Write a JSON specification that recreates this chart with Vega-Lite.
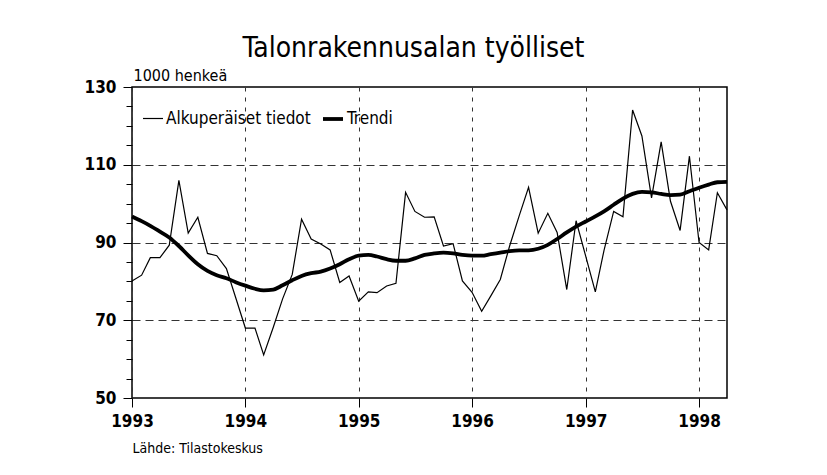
{
  "$schema": "https://vega.github.io/schema/vega-lite/v6.json",
  "width": 595,
  "height": 311,
  "autosize": {"type": "none"},
  "padding": {"left": 132, "top": 87, "right": 100, "bottom": 77},
  "background": "white",
  "config": {
    "font": "Liberation Sans Narrow, DejaVu Sans Condensed, sans-serif",
    "view": {"stroke": "black", "strokeWidth": 1.5}
  },
  "title": {
    "text": "Talonrakennusalan työlliset",
    "fontSize": 28,
    "fontWeight": "normal",
    "color": "black",
    "anchor": "middle",
    "frame": "group",
    "dx": -16,
    "offset": 4
  },
  "data": {
    "format": {"parse": {"date": "date:'%Y-%m'"}},
    "values": [
      {"date": "1993-01", "series": "Alkuperäiset tiedot", "value": 80.1},
      {"date": "1993-02", "series": "Alkuperäiset tiedot", "value": 81.6},
      {"date": "1993-03", "series": "Alkuperäiset tiedot", "value": 86.1},
      {"date": "1993-04", "series": "Alkuperäiset tiedot", "value": 86.1},
      {"date": "1993-05", "series": "Alkuperäiset tiedot", "value": 89.3},
      {"date": "1993-06", "series": "Alkuperäiset tiedot", "value": 106.0},
      {"date": "1993-07", "series": "Alkuperäiset tiedot", "value": 92.4},
      {"date": "1993-08", "series": "Alkuperäiset tiedot", "value": 96.5},
      {"date": "1993-09", "series": "Alkuperäiset tiedot", "value": 87.2},
      {"date": "1993-10", "series": "Alkuperäiset tiedot", "value": 86.6},
      {"date": "1993-11", "series": "Alkuperäiset tiedot", "value": 83.3},
      {"date": "1993-12", "series": "Alkuperäiset tiedot", "value": 75.8},
      {"date": "1994-01", "series": "Alkuperäiset tiedot", "value": 68.0},
      {"date": "1994-02", "series": "Alkuperäiset tiedot", "value": 68.0},
      {"date": "1994-03", "series": "Alkuperäiset tiedot", "value": 61.1},
      {"date": "1994-04", "series": "Alkuperäiset tiedot", "value": 68.2},
      {"date": "1994-05", "series": "Alkuperäiset tiedot", "value": 75.5},
      {"date": "1994-06", "series": "Alkuperäiset tiedot", "value": 81.8},
      {"date": "1994-07", "series": "Alkuperäiset tiedot", "value": 96.0},
      {"date": "1994-08", "series": "Alkuperäiset tiedot", "value": 90.9},
      {"date": "1994-09", "series": "Alkuperäiset tiedot", "value": 89.6},
      {"date": "1994-10", "series": "Alkuperäiset tiedot", "value": 88.1},
      {"date": "1994-11", "series": "Alkuperäiset tiedot", "value": 79.7},
      {"date": "1994-12", "series": "Alkuperäiset tiedot", "value": 81.4},
      {"date": "1995-01", "series": "Alkuperäiset tiedot", "value": 74.9},
      {"date": "1995-02", "series": "Alkuperäiset tiedot", "value": 77.3},
      {"date": "1995-03", "series": "Alkuperäiset tiedot", "value": 77.1},
      {"date": "1995-04", "series": "Alkuperäiset tiedot", "value": 78.8},
      {"date": "1995-05", "series": "Alkuperäiset tiedot", "value": 79.5},
      {"date": "1995-06", "series": "Alkuperäiset tiedot", "value": 102.9},
      {"date": "1995-07", "series": "Alkuperäiset tiedot", "value": 98.0},
      {"date": "1995-08", "series": "Alkuperäiset tiedot", "value": 96.5},
      {"date": "1995-09", "series": "Alkuperäiset tiedot", "value": 96.6},
      {"date": "1995-10", "series": "Alkuperäiset tiedot", "value": 89.1},
      {"date": "1995-11", "series": "Alkuperäiset tiedot", "value": 89.7},
      {"date": "1995-12", "series": "Alkuperäiset tiedot", "value": 80.1},
      {"date": "1996-01", "series": "Alkuperäiset tiedot", "value": 77.2},
      {"date": "1996-02", "series": "Alkuperäiset tiedot", "value": 72.3},
      {"date": "1996-03", "series": "Alkuperäiset tiedot", "value": 76.2},
      {"date": "1996-04", "series": "Alkuperäiset tiedot", "value": 80.5},
      {"date": "1996-05", "series": "Alkuperäiset tiedot", "value": 89.1},
      {"date": "1996-06", "series": "Alkuperäiset tiedot", "value": 96.9},
      {"date": "1996-07", "series": "Alkuperäiset tiedot", "value": 104.2},
      {"date": "1996-08", "series": "Alkuperäiset tiedot", "value": 92.4},
      {"date": "1996-09", "series": "Alkuperäiset tiedot", "value": 97.5},
      {"date": "1996-10", "series": "Alkuperäiset tiedot", "value": 92.6},
      {"date": "1996-11", "series": "Alkuperäiset tiedot", "value": 77.9},
      {"date": "1996-12", "series": "Alkuperäiset tiedot", "value": 95.6},
      {"date": "1997-01", "series": "Alkuperäiset tiedot", "value": 86.5},
      {"date": "1997-02", "series": "Alkuperäiset tiedot", "value": 77.3},
      {"date": "1997-03", "series": "Alkuperäiset tiedot", "value": 88.0},
      {"date": "1997-04", "series": "Alkuperäiset tiedot", "value": 98.0},
      {"date": "1997-05", "series": "Alkuperäiset tiedot", "value": 96.6},
      {"date": "1997-06", "series": "Alkuperäiset tiedot", "value": 124.1},
      {"date": "1997-07", "series": "Alkuperäiset tiedot", "value": 117.4},
      {"date": "1997-08", "series": "Alkuperäiset tiedot", "value": 101.5},
      {"date": "1997-09", "series": "Alkuperäiset tiedot", "value": 115.9},
      {"date": "1997-10", "series": "Alkuperäiset tiedot", "value": 100.6},
      {"date": "1997-11", "series": "Alkuperäiset tiedot", "value": 93.1},
      {"date": "1997-12", "series": "Alkuperäiset tiedot", "value": 112.2},
      {"date": "1998-01", "series": "Alkuperäiset tiedot", "value": 90.0},
      {"date": "1998-02", "series": "Alkuperäiset tiedot", "value": 88.1},
      {"date": "1998-03", "series": "Alkuperäiset tiedot", "value": 102.8},
      {"date": "1998-04", "series": "Alkuperäiset tiedot", "value": 98.4},
      {"date": "1993-01", "series": "Trendi", "value": 96.7},
      {"date": "1993-02", "series": "Trendi", "value": 95.5},
      {"date": "1993-03", "series": "Trendi", "value": 94.3},
      {"date": "1993-04", "series": "Trendi", "value": 92.8},
      {"date": "1993-05", "series": "Trendi", "value": 91.3},
      {"date": "1993-06", "series": "Trendi", "value": 89.1},
      {"date": "1993-07", "series": "Trendi", "value": 86.7},
      {"date": "1993-08", "series": "Trendi", "value": 84.4},
      {"date": "1993-09", "series": "Trendi", "value": 82.7},
      {"date": "1993-10", "series": "Trendi", "value": 81.6},
      {"date": "1993-11", "series": "Trendi", "value": 80.8},
      {"date": "1993-12", "series": "Trendi", "value": 79.8},
      {"date": "1994-01", "series": "Trendi", "value": 78.9},
      {"date": "1994-02", "series": "Trendi", "value": 78.1},
      {"date": "1994-03", "series": "Trendi", "value": 77.7},
      {"date": "1994-04", "series": "Trendi", "value": 77.9},
      {"date": "1994-05", "series": "Trendi", "value": 79.0},
      {"date": "1994-06", "series": "Trendi", "value": 80.3},
      {"date": "1994-07", "series": "Trendi", "value": 81.4},
      {"date": "1994-08", "series": "Trendi", "value": 82.1},
      {"date": "1994-09", "series": "Trendi", "value": 82.5},
      {"date": "1994-10", "series": "Trendi", "value": 83.3},
      {"date": "1994-11", "series": "Trendi", "value": 84.4},
      {"date": "1994-12", "series": "Trendi", "value": 85.7},
      {"date": "1995-01", "series": "Trendi", "value": 86.6},
      {"date": "1995-02", "series": "Trendi", "value": 86.8},
      {"date": "1995-03", "series": "Trendi", "value": 86.4},
      {"date": "1995-04", "series": "Trendi", "value": 85.7},
      {"date": "1995-05", "series": "Trendi", "value": 85.3},
      {"date": "1995-06", "series": "Trendi", "value": 85.3},
      {"date": "1995-07", "series": "Trendi", "value": 85.9},
      {"date": "1995-08", "series": "Trendi", "value": 86.8},
      {"date": "1995-09", "series": "Trendi", "value": 87.2},
      {"date": "1995-10", "series": "Trendi", "value": 87.4},
      {"date": "1995-11", "series": "Trendi", "value": 87.2},
      {"date": "1995-12", "series": "Trendi", "value": 86.8},
      {"date": "1996-01", "series": "Trendi", "value": 86.6},
      {"date": "1996-02", "series": "Trendi", "value": 86.6},
      {"date": "1996-03", "series": "Trendi", "value": 87.0},
      {"date": "1996-04", "series": "Trendi", "value": 87.4},
      {"date": "1996-05", "series": "Trendi", "value": 87.8},
      {"date": "1996-06", "series": "Trendi", "value": 88.0},
      {"date": "1996-07", "series": "Trendi", "value": 88.0},
      {"date": "1996-08", "series": "Trendi", "value": 88.4},
      {"date": "1996-09", "series": "Trendi", "value": 89.4},
      {"date": "1996-10", "series": "Trendi", "value": 90.9},
      {"date": "1996-11", "series": "Trendi", "value": 92.6},
      {"date": "1996-12", "series": "Trendi", "value": 94.1},
      {"date": "1997-01", "series": "Trendi", "value": 95.4},
      {"date": "1997-02", "series": "Trendi", "value": 96.7},
      {"date": "1997-03", "series": "Trendi", "value": 98.0},
      {"date": "1997-04", "series": "Trendi", "value": 99.7},
      {"date": "1997-05", "series": "Trendi", "value": 101.3},
      {"date": "1997-06", "series": "Trendi", "value": 102.5},
      {"date": "1997-07", "series": "Trendi", "value": 103.0},
      {"date": "1997-08", "series": "Trendi", "value": 102.9},
      {"date": "1997-09", "series": "Trendi", "value": 102.5},
      {"date": "1997-10", "series": "Trendi", "value": 102.2},
      {"date": "1997-11", "series": "Trendi", "value": 102.3},
      {"date": "1997-12", "series": "Trendi", "value": 103.2},
      {"date": "1998-01", "series": "Trendi", "value": 104.1},
      {"date": "1998-02", "series": "Trendi", "value": 104.9},
      {"date": "1998-03", "series": "Trendi", "value": 105.5},
      {"date": "1998-04", "series": "Trendi", "value": 105.6}
    ]
  },
  "encoding": {
    "x": {
      "field": "date",
      "type": "temporal",
      "scale": {"domain": [{"year": 1993, "month": 1, "date": 1}, {"year": 1998, "month": 4, "date": 1}]},
      "axis": {
        "values": [{"year": 1993}, {"year": 1994}, {"year": 1995}, {"year": 1996}, {"year": 1997}, {"year": 1998}],
        "format": "%Y",
        "domain": false,
        "tickSize": 9,
        "tickColor": "black",
        "tickWidth": 1,
        "labelFontSize": 17,
        "labelFontWeight": "bold",
        "labelColor": "black",
        "labelPadding": 6,
        "labelFlush": false,
        "grid": true,
        "gridDash": [4, 6],
        "gridColor": "#333",
        "gridWidth": 1,
        "title": "Lähde: Tilastokeskus",
        "titleX": 0,
        "titleY": 54,
        "titleAlign": "left",
        "titleAnchor": null,
        "titleBaseline": "alphabetic",
        "titleFontSize": 14,
        "titleFontWeight": "normal",
        "titleColor": "black"
      }
    },
    "y": {
      "field": "value",
      "type": "quantitative",
      "scale": {"domain": [50, 130], "nice": false, "zero": false},
      "axis": {
        "values": [50, 55, 60, 65, 70, 75, 80, 85, 90, 95, 100, 105, 110, 115, 120, 125, 130],
        "labelExpr": "datum.value % 20 == 10 ? datum.label : ''",
        "domain": false,
        "tickColor": "black",
        "tickWidth": 1,
        "tickSize": {"condition": {"test": "datum.value % 20 == 10", "value": 9}, "value": 6},
        "labelFontSize": 17,
        "labelFontWeight": "bold",
        "labelColor": "black",
        "labelPadding": 7,
        "grid": true,
        "gridDash": [8, 5],
        "gridColor": "#333",
        "gridWidth": 1,
        "gridOpacity": {"condition": {"test": "datum.value % 20 == 10 && datum.value > 50 && datum.value < 130", "value": 1}, "value": 0},
        "title": "1000 henkeä",
        "titleAngle": 0,
        "titleX": 1,
        "titleY": -7,
        "titleAlign": "left",
        "titleBaseline": "alphabetic",
        "titleFontSize": 16,
        "titleFontWeight": "normal",
        "titleColor": "black"
      }
    },
    "strokeWidth": {
      "field": "series",
      "type": "nominal",
      "scale": {"domain": ["Alkuperäiset tiedot", "Trendi"], "range": [1.2, 3.8]},
      "legend": {
        "title": null,
        "orient": "none",
        "legendX": 10,
        "legendY": 20,
        "direction": "horizontal",
        "symbolType": "stroke",
        "symbolStrokeColor": "black",
        "symbolSize": 400,
        "labelFontSize": 17,
        "labelColor": "black",
        "labelOffset": 2,
        "columnPadding": 4,
        "padding": 0
      }
    }
  },
  "layer": [
    {
      "transform": [{"filter": "datum.series == 'Alkuperäiset tiedot'"}],
      "mark": {"type": "line", "color": "black"}
    },
    {
      "transform": [{"filter": "datum.series == 'Trendi'"}],
      "mark": {"type": "line", "color": "black", "interpolate": "monotone"}
    }
  ]
}
